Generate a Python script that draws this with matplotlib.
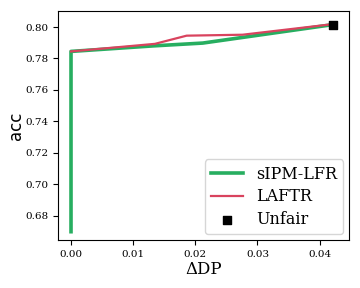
import matplotlib
matplotlib.use('Agg')
import matplotlib.pyplot as plt

# sIPM-LFR trade-off curve
sipm_dp = [0.0, 0.0, 0.0132, 0.0212, 0.0421]
sipm_acc = [0.670, 0.7845, 0.788, 0.7898, 0.8015]
# LAFTR trade-off curve
laftr_dp = [0.0, 0.0135, 0.0186, 0.0276, 0.0421]
laftr_acc = [0.7845, 0.7893, 0.7945, 0.7951, 0.8018]
# unfair baseline
unfair_dp = [0.0421]
unfair_acc = [0.8013]

plt.rcParams['font.family'] = 'DejaVu Serif'
fig = plt.figure(figsize=(3.6, 2.88), dpi=100)
ax = fig.add_axes([0.161, 0.167, 0.808, 0.795])

ax.plot(sipm_dp, sipm_acc, color='#27ae60', linewidth=2.6, label='sIPM-LFR')
ax.plot(laftr_dp, laftr_acc, color='#d9435e', linewidth=1.6, label='LAFTR')
ax.scatter(unfair_dp, unfair_acc, marker='s', color='black', s=30, zorder=5, label='Unfair')

ax.set_xlim(-0.0021, 0.0447)
ax.set_ylim(0.6648, 0.8102)
ax.set_xticks([0.0, 0.01, 0.02, 0.03, 0.04])
ax.set_yticks([0.68, 0.70, 0.72, 0.74, 0.76, 0.78, 0.80])
ax.tick_params(labelsize=7.5)
ax.set_xlabel('ΔDP', fontsize=12, labelpad=2)
ax.set_ylabel('acc', fontsize=12, family='DejaVu Sans', labelpad=0)
ax.legend(loc='lower right', fontsize=11.5, handlelength=2.0, borderpad=0.4,
          labelspacing=0.35, handletextpad=0.8, borderaxespad=0.35)

plt.savefig('out.png', dpi=100)
